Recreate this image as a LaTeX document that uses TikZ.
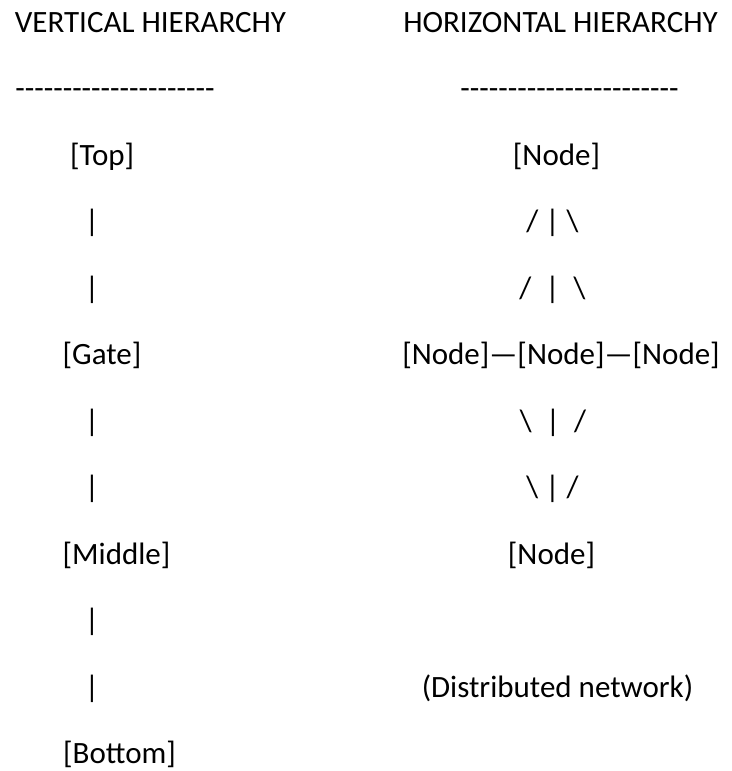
\documentclass[tikz,border=0pt]{standalone}
\usepackage{fontspec}
\setmainfont{Carlito}[Ligatures=TeXOff]
\usepackage{tikz}

\tikzset{
  txt/.style={anchor=base, inner sep=0pt, font=\fontsize{31}{37}\selectfont},
  ltxt/.style={txt, anchor=base west},
}

\begin{document}
\begin{tikzpicture}[x=1pt,y=-1pt]

% page size
\useasboundingbox (0,0) rectangle (731,771);

% left column: vertical hierarchy
\node[txt] (vtitle) at (150.5,32) {VERTICAL HIERARCHY};
\node[txt] (vrule) at (115,98.5) {---------------------};
\node[ltxt] (top) at (70,165) {[Top]};
\node[ltxt] (gate) at (62.5,364.5) {[Gate]};
\node[ltxt] (middle) at (62.5,564) {[Middle]};
\node[ltxt] (bottom) at (63,763.5) {[Bottom]};

% bars between the levels
\foreach \y [count=\i] in {231.5,298,431,497.5,630.5,697}
  \node[txt] (vbar\i) at (92,\y) {|};

% right column: horizontal hierarchy
\node[txt] (htitle) at (560.5,32) {HORIZONTAL HIERARCHY};
\node[txt] (hrule) at (569.5,98.5) {-----------------------};
\node[txt] (ntop) at (556.5,165) {[Node]};
\node[txt] (fanA) at (552.5,231.5) {/ | \textbackslash};
\node[txt] (fanB) at (552.5,298) {/\ \ |\ \ \textbackslash};
\node[txt] (nrow) at (561,364.5) {[Node]\textemdash[Node]\textemdash[Node]};
\node[txt] (fanC) at (553,431) {\textbackslash\ \ |\ \ /};
\node[txt] (fanD) at (552.5,497.5) {\textbackslash\ | /};
\node[txt] (nbot) at (551.5,564) {[Node]};
\node[txt] (note) at (557.5,697) {(Distributed network)};

\end{tikzpicture}
\end{document}
